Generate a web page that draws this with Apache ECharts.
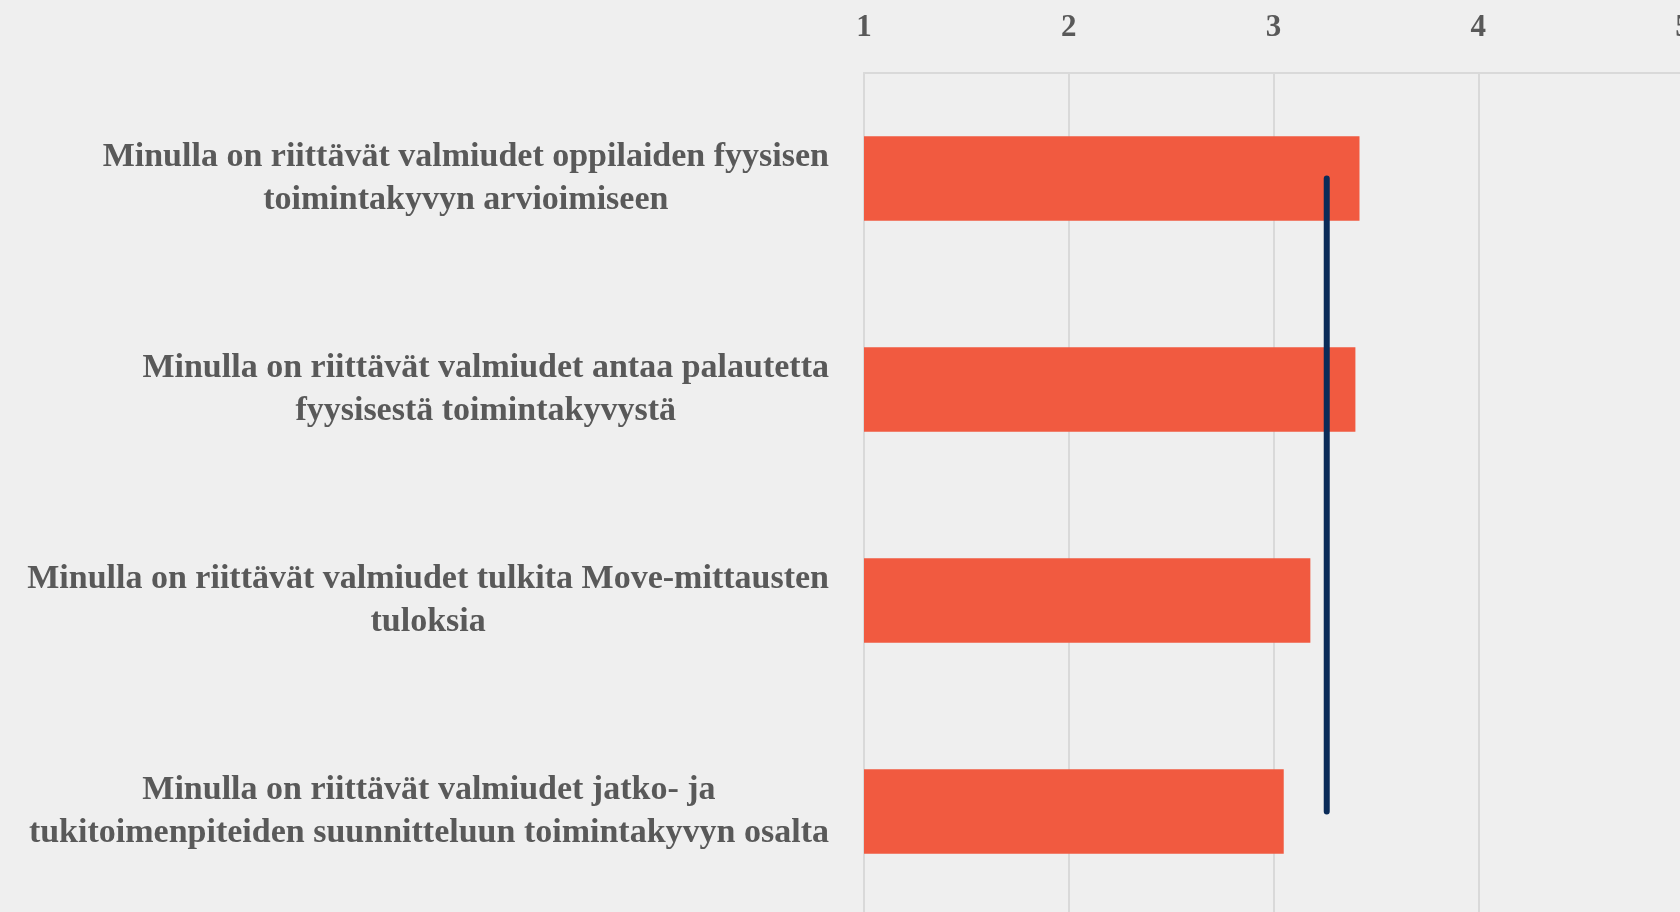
<!DOCTYPE html>
<html>
<head>
<meta charset="utf-8">
<script src="https://cdn.jsdelivr.net/npm/echarts@6/dist/echarts.min.js"></script>
<style>
html,body{margin:0;padding:0;background:#efefef;}
#chart{width:1680px;height:912px;}
</style>
</head>
<body>
<div id="chart"></div>
<script>
const categories = [
  "Minulla on riittävät valmiudet oppilaiden fyysisen\ntoimintakyvyn arvioimiseen",
  "Minulla on riittävät valmiudet antaa palautetta\nfyysisestä toimintakyvystä",
  "Minulla on riittävät valmiudet tulkita Move-mittausten\ntuloksia",
  "Minulla on riittävät valmiudet jatko- ja\ntukitoimenpiteiden suunnitteluun toimintakyvyn osalta"
];
const barValues = [3.42, 3.40, 3.18, 3.05];
const averageValues = [3.26, 3.26, 3.26, 3.26];
const axisMin = 1, axisMax = 5, axisStep = 1;

const FONT = '"Liberation Serif", "DejaVu Serif", serif';
const chart = echarts.init(document.getElementById('chart'));
chart.setOption({
  backgroundColor: '#efefef',
  animation: false,
  grid: { left: 864, top: 73, right: -3, bottom: -5, containLabel: false, outerBoundsMode: 'none' },
  xAxis: {
    type: 'value', position: 'top', min: axisMin, max: axisMax, interval: axisStep,
    axisLine: { show: true, lineStyle: { color: '#d9d9d9', width: 2 } },
    axisTick: { show: false },
    splitLine: { show: true, lineStyle: { color: '#d9d9d9', width: 2 } },
    axisLabel: { color: '#595959', fontFamily: FONT, fontWeight: 'bold', fontSize: 31, margin: 30, hideOverlap: false }
  },
  yAxis: {
    type: 'category', inverse: true, data: categories,
    axisLine: { show: true, lineStyle: { color: '#d9d9d9', width: 2 } },
    axisTick: { show: false },
    splitLine: { show: false },
    axisLabel: {
      margin: 35, align: 'right',
      formatter: function (v) { return v.split('\n').map(l => '{c|' + l + '}').join('\n'); },
      rich: { c: { align: 'center', color: '#595959', fontFamily: FONT, fontWeight: 'bold', fontSize: 34, lineHeight: 43 } }
    }
  },
  series: [
    {
      type: 'bar', data: barValues, barCategoryGap: '60%',
      itemStyle: { color: '#f15a40' }, z: 2
    },
    {
      type: 'line', data: averageValues, symbol: 'none', z: 5,
      lineStyle: { color: '#0a2b58', width: 6, cap: 'round' }
    }
  ]
});
</script>
</body>
</html>
